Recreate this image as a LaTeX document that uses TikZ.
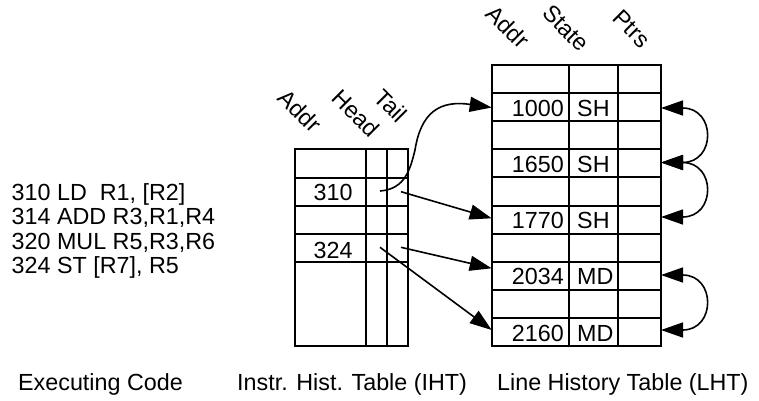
\documentclass[tikz,border=0pt]{standalone}
\usepackage{fontspec}
\setmainfont{Liberation Sans}
\usetikzlibrary{arrows.meta}
\begin{document}
\begin{tikzpicture}[x=1bp,y=-1bp,
  grid/.style={line width=2bp},
  conn/.style={line width=1.6bp,-{Triangle[length=22bp,width=15bp]}},
  dconn/.style={line width=1.6bp,{Triangle[length=22bp,width=15bp]}-{Triangle[length=22bp,width=15bp]}},
  txt/.style={inner sep=0pt,font=\fontsize{23.4}{24.6}\selectfont},
  hdr/.style={txt,rotate=-45}]
\useasboundingbox (0,0) rectangle (759,400);

% executing code
\node[txt,anchor=base west] (c1) at (11.5,200) {310 LD\ \ R1, [R2]};
\node[txt,anchor=base west] (c2) at (11.5,224.6) {314 ADD R3,R1,R4};
\node[txt,anchor=base west] (c3) at (11.5,249.2) {320 MUL R5,R3,R6};
\node[txt,anchor=base west] (c4) at (11.5,273.8) {324 ST [R7], R5};

% IHT
\draw[grid] (295,149) rectangle (408,346);
\draw[grid] (366,149) -- (366,346) (387,149) -- (387,346);
\foreach \y in {177.5,206,234,262} \draw[grid] (295,\y) -- (408,\y);
\node[txt,anchor=base west] (i310) at (313.5,200.5) {310};
\node[txt,anchor=base west] (i324) at (313.5,258) {324};
\node[hdr] (ha) at (300,111) {Addr};
\node[hdr] (hh) at (356,113) {Head};
\node[hdr] (ht) at (391,106) {Tail};

% LHT
\draw[grid] (492,65) rectangle (661,346);
\draw[grid] (569,65) -- (569,346) (618,65) -- (618,346);
\foreach \k in {1,...,9} \draw[grid] (492,65+28.1*\k) -- (661,65+28.1*\k);
\node[hdr] (la) at (508,27) {Addr};
\node[hdr] (ls) at (566,28) {State};
\node[hdr] (lp) at (632,29) {Ptrs};
\foreach \a/\s/\b/\n in {1000/SH/116.5/a,1650/SH/172.5/b,1770/SH/228.7/c,2034/MD/284.9/d,2160/MD/341/e}{
  \node[txt,anchor=base east] (addr\n) at (564,\b) {\a};
  \node[txt,anchor=base west] (st\n) at (577,\b) {\s};
}

% bottom captions
\node[txt,anchor=base west] (capa) at (18,390) {Executing Code};
\node[txt,anchor=base west] (capb) at (237,390) {Instr. Hist. Table (IHT)};
\node[txt,anchor=base west] (capc) at (497,390) {Line History Table (LHT)};

% pointer coordinates
\coordinate (h310) at (380,191);
\coordinate (t310) at (401,191.7);
\coordinate (h324) at (380,247.3);
\coordinate (t324) at (401,247.3);
\coordinate (w1000) at (491.7,107.5);
\coordinate (w1770) at (491.7,218.3);
\coordinate (w2034) at (491.7,268.3);
\coordinate (w2160) at (491.7,330);
\coordinate (e1000) at (661,108);
\coordinate (e1650) at (661,162.5);
\coordinate (e1770) at (661,217);
\coordinate (e2034) at (661,275);
\coordinate (e2160) at (661,330);

% connectors
\draw[conn] (h310) .. controls (405,189) and (410,170) .. (415,150)
  .. controls (421,112) and (440,100) .. (w1000);
\draw[conn] (t310) -- (w1770);
\draw[conn] (t324) -- (w2034);
\draw[conn] (h324) -- (w2160);
\draw[dconn] (e1000) .. controls (716,108) and (716,162.5) .. (e1650);
\draw[dconn] (e1650) .. controls (716,162.5) and (716,217) .. (e1770);
\draw[dconn] (e2034) .. controls (716,275) and (716,330) .. (e2160);
\end{tikzpicture}
\end{document}
